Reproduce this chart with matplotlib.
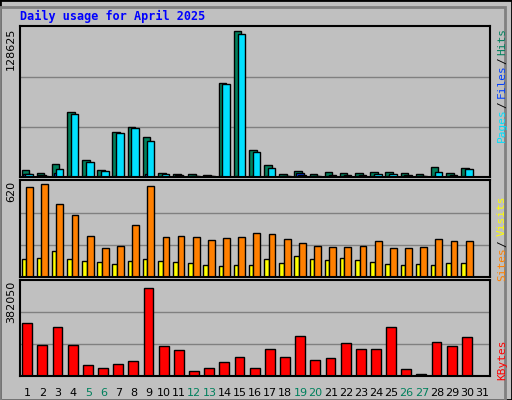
import matplotlib
matplotlib.use("Agg")
import matplotlib.pyplot as plt
import numpy as np
from matplotlib.patches import Rectangle

days = list(range(1, 32))
hits = [6000,3400,11000,55700,14500,6000,38600,42900,34300,3400,2600,2600,1700,80600,126000,23100,
        10300,2600,5100,2600,4300,3400,3400,4300,4300,3400,2600,8600,3400,7700,0]
files = [2600,1700,3400,800,800,600,900,900,3000,800,1700,600,600,900,900,800,
         800,600,3400,600,900,600,600,900,900,600,600,800,600,800,0]
pages = [2600,1000,6900,54000,12800,5100,37700,42000,30900,2600,1000,800,1000,79700,122600,21400,
         7700,1000,1700,1000,1700,1700,1700,2600,2600,1700,1000,4300,1700,6900,0]
visits = [116,123,168,116,103,97,84,103,116,103,97,90,77,71,77,77,
          116,90,136,116,110,123,110,97,84,77,84,77,90,90,0]
sites = [581,600,471,400,265,187,200,336,588,258,265,258,239,252,258,284,
         278,245,220,200,194,194,200,232,187,187,194,245,232,232,0]
kbytes = [223000,131000,203000,131000,48000,32000,52000,64000,366000,127000,107000,20000,32000,60000,80000,32000,
          111000,80000,167000,68000,76000,139000,111000,111000,203000,28000,8000,143000,127000,163000,0]
weekends = [5,6,12,13,19,20,26,27]
max_hits, max_sites, max_kb = 128625, 620, 382050

W, H = 512, 400
fig = plt.figure(figsize=(W/100, H/100), dpi=100)
fig.patch.set_facecolor('#c0c0c0')
fig.patches.append(Rectangle((0, 0), 1, 1, transform=fig.transFigure, fill=False, edgecolor='black', lw=2))
fig.patches.append(Rectangle((0, 0), 505/W, 393/H, transform=fig.transFigure, fill=False, edgecolor='#808080', lw=2))

def ax_px(x0, y0, x1, y1):
    a = fig.add_axes([x0/W, 1-y1/H, (x1-x0)/W, (y1-y0)/H])
    a.set_facecolor('#c0c0c0')
    a.set_xlim(0.5, 31.5)
    a.set_xticks([]); a.set_yticks([])
    for s in a.spines.values():
        s.set_linewidth(1.5)
    return a

fig.text(20/W, 1-16/H, "Daily usage for April 2025", color='#0000ff', fontsize=8.5,
         family='DejaVu Sans Mono', weight='bold', va='center', ha='left')

x = np.array(days)
ek = dict(edgecolor='black', linewidth=1, align='edge')

a1 = ax_px(20, 26, 490, 177)
a1.set_ylim(0, max_hits*1.01)
for g in (1/3, 2/3):
    a1.axhline(max_hits*g, color='#808080', lw=1, zorder=0)
a1.bar(x-0.4, hits, width=0.5, color='#00805c', **ek)
a1.bar(x-0.28, files, width=0.5, color='#0040ff', **ek)
a1.bar(x-0.15, pages, width=0.5, color='#00e0ff', **ek)

a2 = ax_px(20, 180, 490, 277)
a2.set_ylim(0, max_sites*1.01)
for g in (1/3, 2/3):
    a2.axhline(max_sites*g, color='#808080', lw=1, zorder=0)
a2.bar(x-0.4, visits, width=0.3, color='#ffff00', **ek)
a2.bar(x-0.1, sites, width=0.45, color='#ff8000', **ek)

a3 = ax_px(20, 280, 490, 376)
a3.set_ylim(0, max_kb*1.05)
for g in (1/3, 2/3):
    a3.axhline(max_kb*1.05*g, color='#808080', lw=1, zorder=0)
a3.bar(x-0.35, kbytes, width=0.65, color='#ff0000', **ek)

for d in days:
    a3.text(d, -0.12, str(d), transform=a3.get_xaxis_transform(), ha='center', va='top',
            fontsize=8, color='#00805c' if d in weekends else 'black')

def lefty(ypx, txt):
    fig.text(16/W, 1-ypx/H, txt, rotation=90, fontsize=8, ha='right', va='top')
lefty(28, "128625"); lefty(181, "620"); lefty(281, "382050")

def righty(ytop, parts):
    y = ytop
    for txt, col in parts:
        fig.text(502/W, 1-y/H, txt, rotation=90, fontsize=8, color=col, ha='center', va='top',
                 family='DejaVu Sans Mono')
        y += 7.3*len(txt)

righty(28, [("Hits", '#00805c'), ("/", 'black'), ("Files", '#0040ff'), ("/", 'black'), ("Pages", '#00e0ff')])
righty(196, [("Visits", '#ffff00'), ("/", 'black'), ("Sites", '#ff8000')])
righty(340, [("KBytes", '#ff0000')])

fig.savefig("out.png", dpi=100, facecolor=fig.get_facecolor())
